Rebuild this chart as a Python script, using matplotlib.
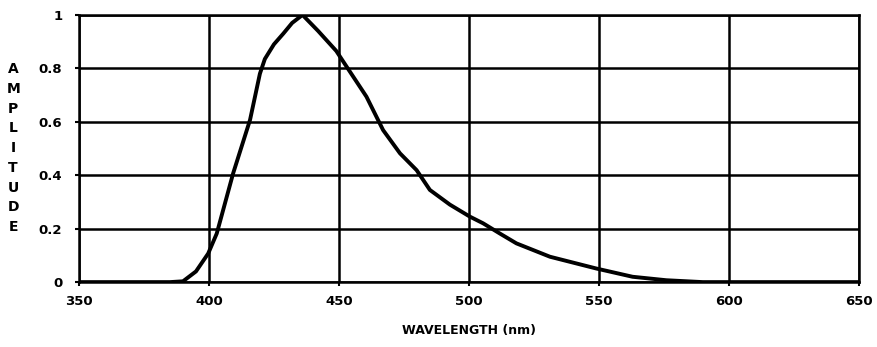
import numpy as np
import matplotlib.pyplot as plt

# spectral curve
wavelength = [350, 385, 390, 395, 399.7, 403, 409.3, 415.8, 419.6, 421.5, 425, 428.6, 432, 436,
              442, 449, 451.7, 460.6, 467, 473.5, 479.9, 485, 492.7, 500.4, 505.5, 511.9,
              518.3, 531.2, 549, 563, 576, 590, 650]
amplitude = [0, 0, 0.003, 0.04, 0.107, 0.182, 0.407, 0.607, 0.78, 0.835, 0.89, 0.93, 0.97, 1.0,
             0.94, 0.865, 0.825, 0.694, 0.569, 0.482, 0.419, 0.345, 0.29, 0.245, 0.22, 0.182,
             0.145, 0.095, 0.051, 0.02, 0.007, 0, 0]

x_ticks = [350, 400, 450, 500, 550, 600, 650]
y_ticks = [0, 0.2, 0.4, 0.6, 0.8, 1]
y_tick_labels = ['0', '0.2', '0.4', '0.6', '0.8', '1']

fig = plt.figure(figsize=(8.78, 3.47), dpi=100)
ax = fig.add_axes([0.090, 0.187, 0.888, 0.770])

ax.plot(wavelength, amplitude, color='black', linewidth=2.8, solid_joinstyle='round', zorder=3)

ax.set_xlim(350, 650)
ax.set_ylim(0, 1)
ax.set_xticks(x_ticks)
ax.set_yticks(y_ticks)
ax.set_yticklabels(y_tick_labels)
ax.grid(True, color='black', linewidth=1.8)
for s in ax.spines.values():
    s.set_linewidth(1.8)
ax.tick_params(length=3, width=1.5, labelsize=9.5)
ax.tick_params(axis='x', pad=6)
ax.tick_params(axis='y', pad=9)
for lab in ax.get_xticklabels() + ax.get_yticklabels():
    lab.set_fontweight('heavy')

ax.set_xlabel('WAVELENGTH (nm)', fontsize=9, fontweight='heavy', labelpad=12)
# stacked vertical axis title
fig.text(0.015, 0.573, '\n'.join('AMPLITUDE'), ha='center', va='center',
         fontsize=10, fontweight='heavy', linespacing=1.52)

fig.savefig('out.png', dpi=100)
